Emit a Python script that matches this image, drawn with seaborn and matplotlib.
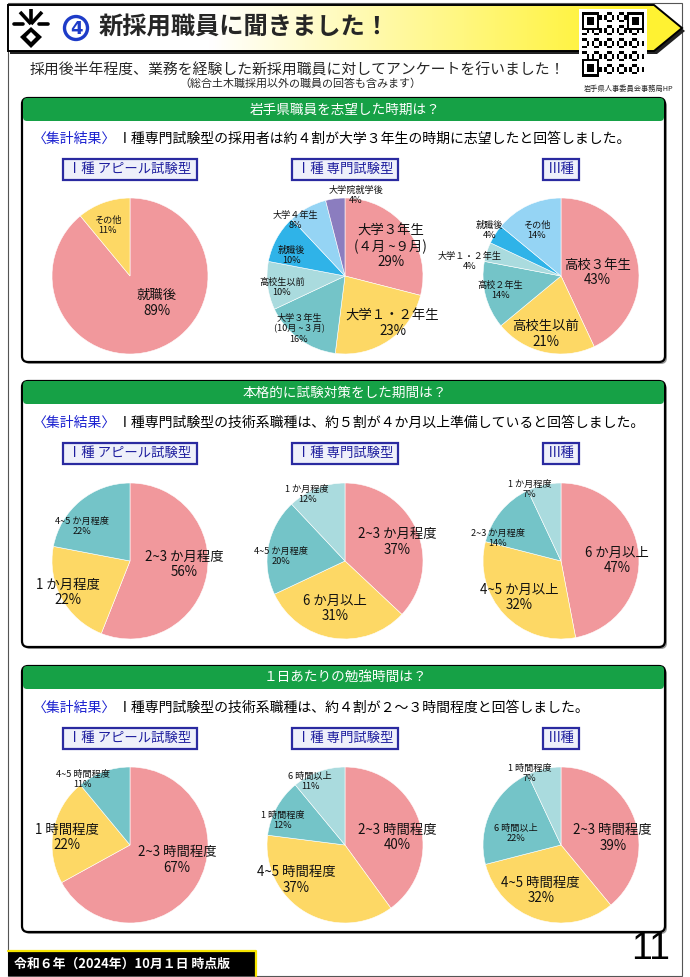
import numpy as np
import matplotlib
matplotlib.use("Agg")
import matplotlib.pyplot as plt
import seaborn as sns
from matplotlib.patches import Polygon, FancyBboxPatch, Rectangle, Circle

sns.set_theme(style="white")
plt.rcParams['font.family'] = ['Noto Sans CJK JP', 'DejaVu Sans']

# ---------------- DATA ----------------
section_titles = ["岩手県職員を志望した時期は？",
                  "本格的に試験対策をした期間は？",
                  "１日あたりの勉強時間は？"]
section_summaries = ["Ⅰ種専門試験型の採用者は約４割が大学３年生の時期に志望したと回答しました。",
                     "Ⅰ種専門試験型の技術系職種は、約５割が４か月以上準備していると回答しました。",
                     "Ⅰ種専門試験型の技術系職種は、約４割が２～３時間程度と回答しました。"]
group_names = ["Ⅰ種 アピール試験型", "Ⅰ種 専門試験型", "Ⅲ種"]

s1_apl_labels = ["就職後", "その他"]
s1_apl_values = [89, 11]
s1_sen_labels = ["大学３年生\n(４月 ~９月)", "大学１・２年生", "大学３年生\n(10月 ~３月)",
                 "高校生以前", "就職後", "大学４年生", "大学院就学後"]
s1_sen_values = [29, 23, 16, 10, 10, 8, 4]
s1_iii_labels = ["高校３年生", "高校生以前", "高校２年生", "大学１・２年生", "就職後", "その他"]
s1_iii_values = [43, 21, 14, 4, 4, 14]

s2_apl_labels = ["2~3 か月程度", "1 か月程度", "4~5 か月程度"]
s2_apl_values = [56, 22, 22]
s2_sen_labels = ["2~3 か月程度", "6 か月以上", "4~5 か月程度", "1 か月程度"]
s2_sen_values = [37, 31, 20, 12]
s2_iii_labels = ["6 か月以上", "4~5 か月以上", "2~3 か月程度", "1 か月程度"]
s2_iii_values = [47, 32, 14, 7]

s3_apl_labels = ["2~3 時間程度", "1 時間程度", "4~5 時間程度"]
s3_apl_values = [67, 22, 11]
s3_sen_labels = ["2~3 時間程度", "4~5 時間程度", "1 時間程度", "6 時間以上"]
s3_sen_values = [40, 37, 12, 11]
s3_iii_labels = ["2~3 時間程度", "4~5 時間程度", "6 時間以上", "1 時間程度"]
s3_iii_values = [39, 32, 22, 7]

# ---------------- STYLE ----------------
PAL = {"pink": "#F1989C", "yellow": "#FDD865", "teal": "#74C4C8", "lteal": "#AADBDE",
       "blue": "#2FB3E8", "lblue": "#95D4F4", "purple": "#8B7DBF"}
C4 = ["pink", "yellow", "teal", "lteal"]

# per pie: (labels, values, color keys, label distances, label angle nudges)
pies = [
    [(s1_apl_labels, s1_apl_values, ["pink", "yellow"], [0.49, 0.71], [25, 4]),
     (s1_sen_labels, s1_sen_values, ["pink", "yellow", "teal", "lteal", "blue", "lblue", "purple"],
      [0.70, 0.86, 0.90, 0.82, 0.73, 0.95, 1.04], [-5, 11, -5, 3, 8, 13, -15]),
     (s1_iii_labels, s1_iii_values, ["pink", "yellow", "teal", "lteal", "blue", "lblue"],
      [0.47, 0.77, 0.80, 1.18, 1.08, 0.66], [-7, -2, -1, 9, 0, 3])],
    [(s2_apl_labels, s2_apl_values, C4[:3], [0.70, 0.89, 0.76], [7, -2, 15]),
     (s2_sen_labels, s2_sen_values, C4, [0.71, 0.62, 0.82, 0.98], [-3, -3, 7, 8]),
     (s2_iii_labels, s2_iii_values, C4, [0.72, 0.71, 0.86, 1.0], [-5, -2, 20, 11])],
    [(s3_apl_labels, s3_apl_values, C4[:3], [0.63, 0.81, 1.04], [13, 4, 16]),
     (s3_sen_labels, s3_sen_values, C4, [0.68, 0.77, 0.86, 0.93], [-10, -24, 7, 9]),
     (s3_iii_labels, s3_iii_values, C4, [0.67, 0.64, 0.60, 1.0], [-12, -6, 11, 11])],
]

W, H = 690, 977
sec_top = [98, 381, 666]
sec_bot = [362, 647, 932]
sum_y = [139, 423, 708]
sub_y = [169, 453, 738]
pie_cy = [276, 561, 845]
pie_cx = [130, 345, 561]
R = 78

fig = plt.figure(figsize=(W / 100, H / 100), dpi=100)
fig.patch.set_facecolor("white")
bg = fig.add_axes([0, 0, 1, 1])
bg.set_xlim(0, W)
bg.set_ylim(H, 0)
bg.axis("off")

# page frame
bg.add_patch(Rectangle((8, 3), 674, 973, fill=False, ec="#555555", lw=0.8))

# ---- title banner ----
shadow = Polygon([(10, 8), (657, 8), (685, 31), (657, 54), (10, 54)], closed=True,
                 fc="#222222", ec="none", zorder=1)
bg.add_patch(shadow)
banner_pts = [(8, 5), (654, 5), (682, 28), (654, 51), (8, 51)]
banner = Polygon(banner_pts, closed=True, fc="none", ec="black", lw=1.4, zorder=3)
bg.add_patch(banner)
grad = np.linspace(0, 1, 300)
grad = np.clip((grad - 0.3) / 0.6, 0, 1)
cols = np.ones((2, 300, 3))
cols[:, :, 1] = 1.0 - 0.05 * grad
cols[:, :, 2] = 1.0 - 0.8 * grad
im = bg.imshow(cols, extent=(8, 682, 51, 5), aspect="auto", zorder=2, interpolation="bilinear")
clip = Polygon(banner_pts, closed=True, transform=bg.transData)
im.set_clip_path(clip)
bg.set_xlim(0, W)
bg.set_ylim(H, 0)

# emblem (simplified)
ex, ey = 31, 24
for (dx, dy) in [(-11, -12), (0, -15), (11, -12)]:
    bg.plot([ex, ex + dx], [ey, ey + dy], color="black", lw=2.6, zorder=4,
            solid_capstyle="butt")
bg.plot([14, 23], [ey, ey], color="black", lw=2.6, zorder=4)
bg.plot([39, 48], [ey, ey], color="black", lw=2.6, zorder=4)
bg.add_patch(Polygon([(ex, 27), (ex + 11, 37), (ex, 48), (ex - 11, 37)], closed=True,
                     fc="black", ec="none", zorder=4))
bg.add_patch(Polygon([(ex, 32), (ex + 5, 37), (ex, 42), (ex - 5, 37)], closed=True,
                     fc="white", ec="none", zorder=5))
# circled number
bg.add_patch(Circle((76, 28), 11.5, fc="white", ec="#1E3CC8", lw=2.4, zorder=4))
bg.text(76, 28.5, "4", color="#1E3CC8", fontsize=13, fontweight="bold", ha="center",
        va="center", zorder=5, family=["DejaVu Sans"])
bg.text(99, 28, "新採用職員に聞きました！", fontsize=17.5, fontweight="bold", ha="left",
        va="center", zorder=5)

# QR (decorative)
n = 25
qr = np.zeros((n, n))
for i in range(n):
    for j in range(n):
        qr[i, j] = 1 if ((i * 7 + j * 11 + i * j) % 5) < 2 else 0
for (a, b) in [(0, 0), (0, n - 7), (n - 7, 0)]:
    qr[a:a + 7, b:b + 7] = 1
    qr[a + 1:a + 6, b + 1:b + 6] = 0
    qr[a + 2:a + 5, b + 2:b + 5] = 1
bg.add_patch(Rectangle((579, 9), 68, 71, fc="white", ec="none", zorder=5))
bg.imshow(qr, cmap="gray_r", extent=(582, 644, 77, 12), interpolation="nearest", zorder=6,
          aspect="auto")
bg.set_xlim(0, W)
bg.set_ylim(H, 0)
bg.text(629, 89, "岩手県人事委員会事務局HP", fontsize=5.2, ha="center", va="center", zorder=6)

bg.text(297, 71, "採用後半年程度、業務を経験した新採用職員に対してアンケートを行いました！",
        fontsize=10.7, ha="center", va="center")
bg.text(300, 84, "（総合土木職採用以外の職員の回答も含みます）", fontsize=7.9, ha="center",
        va="center")

renderer = fig.canvas.get_renderer()

# ---- sections ----
for s in range(3):
    top, bot = sec_top[s], sec_bot[s]
    bg.add_patch(FancyBboxPatch((24, top + 2), 643, bot - top, boxstyle="round,pad=0,rounding_size=6",
                                fc="#9a9a9a", ec="none", zorder=1))
    bg.add_patch(FancyBboxPatch((22, top), 643, bot - top, boxstyle="round,pad=0,rounding_size=6",
                                fc="white", ec="black", lw=1.6, zorder=2))
    bg.add_patch(FancyBboxPatch((23, top), 641, 23, boxstyle="round,pad=0,rounding_size=4",
                                fc="#16A146", ec="none", zorder=3))
    bg.text(345, top + 11.5, section_titles[s], color="white", fontsize=9.8, ha="center",
            va="center", zorder=4)
    t1 = bg.text(33, sum_y[s], "〈集計結果〉", color="#1A20D0", fontsize=10, ha="left",
                 va="center", zorder=4)
    ext = t1.get_window_extent(renderer)
    bg.text(33 + ext.width + 2, sum_y[s], section_summaries[s], color="black", fontsize=10,
            ha="left", va="center", zorder=4)
    for k in range(3):
        tt = bg.text(pie_cx[k], sub_y[s], group_names[k], color="#1E1E9E", fontsize=9.6,
                     ha="center", va="center", zorder=5)
        e = tt.get_window_extent(renderer)
        bw = e.width + 10
        bg.add_patch(Rectangle((pie_cx[k] - bw / 2, sub_y[s] - 10.5), bw, 21, fc="#EEF0FA",
                               ec="#2A2AA0", lw=1.6, zorder=4))

    for k in range(3):
        labels, values, ckeys, dists, nudges = pies[s][k]
        cx, cy = pie_cx[k], pie_cy[s]
        ax = fig.add_axes([(cx - R - 40) / W, 1 - (cy + R + 40) / H, (2 * R + 80) / W,
                           (2 * R + 80) / H])
        ax.set_zorder(10)
        ax.patch.set_alpha(0)
        colors = [PAL[c] for c in ckeys]
        ax.pie(values, colors=colors, startangle=90, counterclock=False, radius=1.0,
               wedgeprops=dict(linewidth=0.4, edgecolor="white"))
        lim = (R + 40) / R
        ax.set_xlim(-lim, lim)
        ax.set_ylim(-lim, lim)
        ax.set_aspect("equal")
        ax.axis("off")
        total = float(sum(values))
        start = 90.0
        for i, (lab, v) in enumerate(zip(labels, values)):
            span = 360.0 * v / total
            mid = start - span / 2
            start -= span
            ang = np.deg2rad(mid + nudges[i])
            x = dists[i] * np.cos(ang)
            y = dists[i] * np.sin(ang)
            big = (i < 2 and v >= 20)
            ax.text(x, y, f"{lab}\n{v}%", fontsize=9.6 if big else 6.6, ha="center",
                    va="center", multialignment="center", linespacing=1.15, color="#111111")

# ---- footer ----
bg.add_patch(Rectangle((8, 951), 248, 25, fc="black", ec="none", zorder=3))
bg.plot([8, 256, 256], [951, 951, 976], color="#F5E400", lw=1.6, zorder=4)
bg.text(14, 964, "令和６年（2024年）10月１日 時点版", color="white", fontsize=9.3,
        fontweight="bold", ha="left", va="center", zorder=5)
bg.text(670, 949, "11", fontsize=27, ha="right", va="center", family=["Liberation Sans"],
        color="black", zorder=5)

fig.savefig("out.png", dpi=100)
